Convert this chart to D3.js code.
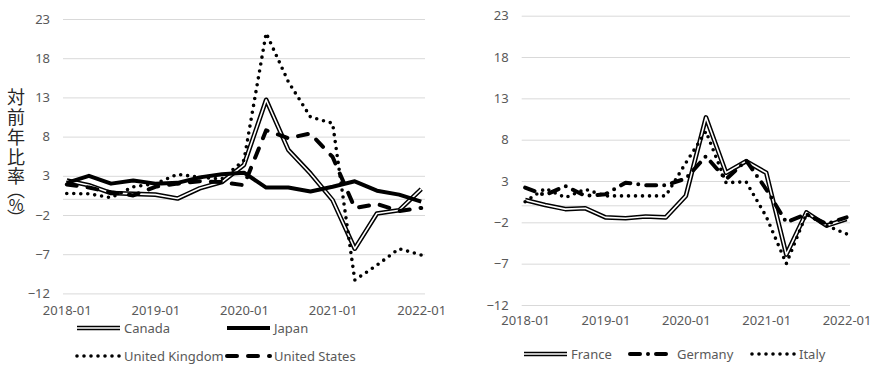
<!DOCTYPE html>
<html>
<head>
<meta charset="utf-8">
<script src="https://cdn.jsdelivr.net/npm/d3@7"></script>
<style>
    body { margin: 0; background: #fff; }
    svg text { font-family: "Noto Sans", sans-serif; }
</style>
</head>
<body>
<div id="chart"></div>
<script>
// quarterly points, 2018-01 .. 2022-01
var quarters = ["2018-01","2018-04","2018-07","2018-10","2019-01","2019-04","2019-07","2019-10",
    "2020-01","2020-04","2020-07","2020-10","2021-01","2021-04","2021-07","2021-10","2022-01"];
var xTickLabels = ["2018-01","2019-01","2020-01","2021-01","2022-01"];
var yTicks = [-12, -7, -2, 3, 8, 13, 18, 23];
var yTitle = ["対", "前", "年", "比", "率", "（", "%", "）"];

var canada  = [2.4, 1.8, 0.8, 0.7, 0.6, 0.1, 1.4, 2.2, 4.4, 12.7, 6.3, 3.3, -0.1, -6.3, -1.8, -1.4, 1.3];
var japan   = [2.1, 3.0, 2.0, 2.4, 2.0, 2.1, 2.8, 3.2, 3.4, 1.5, 1.5, 1.0, 1.6, 2.3, 1.1, 0.6, -0.3];
var uk      = [0.75, 0.7, 0.2, 1.6, 2.0, 3.2, 2.8, 2.6, 5.0, 21.2, 15.0, 10.5, 9.7, -10.3, -8.4, -6.3, -7.1];
var us      = [1.9, 1.5, 0.9, 0.5, 1.6, 2.0, 2.3, 2.2, 1.8, 8.8, 7.8, 8.4, 5.4, -1.1, -0.6, -1.5, -1.1];

var france  = [0.7, 0.1, -0.4, -0.3, -1.4, -1.5, -1.3, -1.4, 1.2, 10.7, 4.0, 5.4, 4.0, -5.9, -0.8, -2.4, -1.6];
var germany = [2.2, 1.3, 2.4, 1.2, 1.4, 2.8, 2.5, 2.5, 3.3, 6.0, 3.2, 5.5, 2.0, -2.0, -1.0, -2.2, -1.4];
var italy   = [0.5, 2.1, 1.0, 2.0, 1.2, 1.2, 1.2, 1.2, 5.2, 9.0, 2.8, 2.9, -1.3, -7.0, -1.0, -2.4, -3.4];

// line styles (Excel-like)
var styles = {
    double:  {width: 4.6, dash: null, cap: "butt", inner: true},
    solid:   {width: 4, dash: null, cap: "butt"},
    dot:     {width: 3.6, dash: "0 7", cap: "round"},
    dash:    {width: 4, dash: "10 11", cap: "round"},
    dashdot: {width: 4, dash: "10 8 0 8", cap: "round"}
};

var svg = d3.select("#chart").append("svg")
    .attr("width", 882)
    .attr("height", 369);

function drawPanel(cfg) {
    var x = d3.scalePoint()
        .domain(quarters)
        .range([cfg.left, cfg.right])
        .padding(0.17);

    var y = d3.scaleLinear()
        .domain([-12, 23])
        .range([cfg.bottom, cfg.top]);

    var g = svg.append("g");

    // gridlines + y labels
    var yAxis = d3.axisLeft(y)
        .tickValues(yTicks)
        .tickSizeInner(-(cfg.right - cfg.left))
        .tickSizeOuter(0)
        .tickPadding(13);

    g.append("g")
        .attr("class", "y-axis")
        .attr("transform", "translate(" + cfg.left + ",0)")
        .call(yAxis)
        .call(function(a) {
            a.select(".domain").remove();
            a.selectAll("line").attr("stroke", "#d9d9d9");
            a.selectAll("text").attr("fill", "#595959").style("font-size", "13px");
        });

    // zero line
    g.append("line")
        .attr("x1", cfg.left).attr("x2", cfg.right)
        .attr("y1", y(0)).attr("y2", y(0))
        .attr("stroke", "#d9d9d9");

    var xAxis = d3.axisBottom(x)
        .tickValues(xTickLabels)
        .tickSize(0)
        .tickPadding(cfg.xPad);

    g.append("g")
        .attr("class", "x-axis")
        .attr("transform", "translate(0," + cfg.bottom + ")")
        .call(xAxis)
        .call(function(a) {
            a.select(".domain").remove();
            a.selectAll("text").attr("fill", "#595959").style("font-size", "13px");
        });

    var line = d3.line()
        .x(function(d, i) { return x(quarters[i]); })
        .y(function(d) { return y(d); });

    cfg.series.forEach(function(s) {
        drawStroke(g, line(s.values), styles[s.style]);
    });

    // legend
    cfg.legend.forEach(function(l) {
        var lg = g.append("g")
            .attr("transform", "translate(" + l.x + "," + l.y + ")");
        drawStroke(lg, "M0,0H43", styles[l.style]);
        lg.append("text")
            .attr("x", 47)
            .attr("y", 0)
            .attr("dy", "0.35em")
            .attr("fill", "#595959")
            .style("font-size", "13px")
            .text(l.name);
    });
}

function drawStroke(parent, d, st) {
    parent.append("path")
        .attr("d", d)
        .attr("fill", "none")
        .attr("stroke", "#000")
        .attr("stroke-width", st.width)
        .attr("stroke-linecap", st.cap)
        .attr("stroke-linejoin", "round")
        .attr("stroke-dasharray", st.dash);
    if (st.inner) {
        parent.append("path")
            .attr("d", d)
            .attr("fill", "none")
            .attr("stroke", "#fff")
            .attr("stroke-width", 1.6)
            .attr("stroke-linejoin", "round");
    }
}

drawPanel({
    left: 63, right: 425, top: 19, bottom: 293.4, xPad: 12,
    series: [
        {values: canada, style: "double"},
        {values: japan, style: "solid"},
        {values: uk, style: "dot"},
        {values: us, style: "dash"}
    ],
    legend: [
        {name: "Canada", style: "double", x: 77, y: 328},
        {name: "Japan", style: "solid", x: 227, y: 328},
        {name: "United Kingdom", style: "dot", x: 77, y: 356},
        {name: "United States", style: "dash", x: 227, y: 356}
    ]
});

drawPanel({
    left: 521.7, right: 850, top: 15.7, bottom: 305, xPad: 11,
    series: [
        {values: france, style: "double"},
        {values: germany, style: "dashdot"},
        {values: italy, style: "dot"}
    ],
    legend: [
        {name: "France", style: "double", x: 524, y: 354},
        {name: "Germany", style: "dashdot", x: 630, y: 354},
        {name: "Italy", style: "dot", x: 752, y: 354}
    ]
});

// vertical y-axis title: one text element written top-to-bottom
var rowY = [97, 117, 137, 157, 176, 190, 205, 218];
svg.append("text")
    .attr("x", 16)
    .style("writing-mode", "vertical-rl")
    .style("text-orientation", "upright")
    .style("font-family", "'Noto Sans CJK JP', sans-serif")
    .style("font-size", "18px")
    .attr("text-anchor", "middle")
    .attr("fill", "#262626")
    .selectAll("tspan")
    .data(yTitle)
    .join("tspan")
    .attr("x", 16)
    .attr("y", function(d, i) { return rowY[i]; })
    .style("font-size", function(d) { return d === "%" ? "16px" : null; })
    .text(function(d) { return d; });
</script>
</body>
</html>
